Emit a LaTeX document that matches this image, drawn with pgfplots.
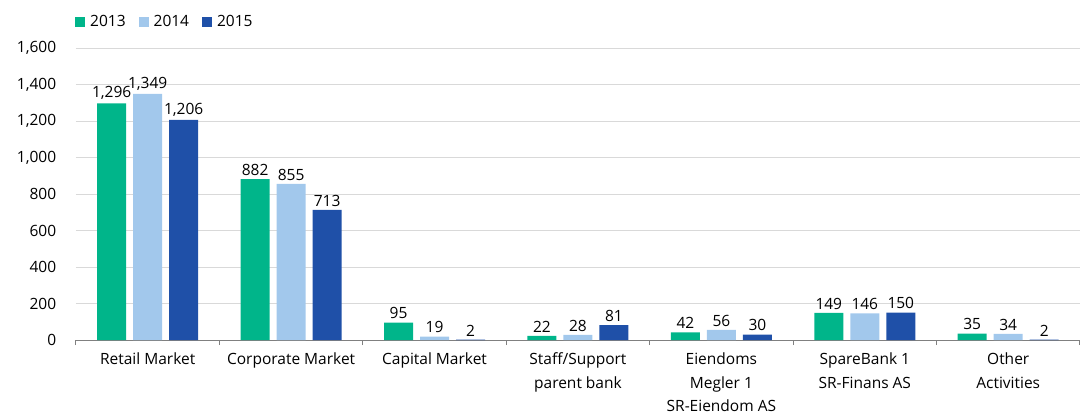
\documentclass[border=0pt]{standalone}
\usepackage{pgfplots}
\pgfplotsset{compat=1.18}
\usepackage{fontspec}
\setmainfont{Open Sans}
\definecolor{cA}{RGB}{0,181,138}
\definecolor{cB}{RGB}{162,200,236}
\definecolor{cC}{RGB}{31,80,168}
\definecolor{gridc}{RGB}{217,217,217}
\definecolor{axc}{RGB}{128,128,128}
\begin{document}
\begin{tikzpicture}
\useasboundingbox (-76pt,-75pt) rectangle (1007pt,340pt);
\begin{axis}[
  at={(0,0)}, anchor=south west,
  scale only axis, width=1004pt, height=292pt,
  ybar=7pt, bar width=29pt,
  xmin=-0.5, xmax=6.5, ymin=0, ymax=1600,
  ytick={0,200,...,1600},
  yticklabel style={font=\fontsize{15.5}{18}\selectfont, xshift=-12pt, /pgf/number format/.cd, fixed, 1000 sep={,}, assume math mode=true},
  ymajorgrids, grid style={gridc, line width=0.8pt},
  axis x line*=bottom, axis y line*=left,
  y axis line style={draw=none},
  x axis line style={axc, line width=1pt, -},
  xtick={0,...,6},
  xticklabels={Retail Market, Corporate Market, Capital Market, {Staff/Support\\parent bank}, {Eiendoms\\Megler 1\\SR-Eiendom AS}, {SpareBank 1\\SR-Finans AS}, {Other\\Activities}},
  xticklabel style={align=center, font=\fontsize{15.5}{23.5}\selectfont, yshift=-5pt},
  major x tick style={draw=none},
  minor xtick={-0.5,0.5,...,6.5},
  minor x tick style={axc, line width=1pt},
  minor tick length=5pt,
  tick align=outside,
  major y tick style={draw=none},
  nodes near coords,
  every node near coord/.append style={font=\fontsize{15.5}{18}\selectfont, black, /pgf/number format/.cd, fixed, 1000 sep={,}, assume math mode=true},
  legend style={at={(rel axis cs:0,1)}, anchor=west, yshift=26pt, xshift=-4pt, draw=none, font=\fontsize{15.5}{18}\selectfont, legend columns=3,
    /tikz/every even column/.append style={column sep=11pt},
    /tikz/every odd column/.append style={column sep=3pt}},
  legend image code/.code={\fill[#1] (0pt,-5pt) rectangle (10pt,5pt);},
]
\addplot[fill=cA, draw=none] coordinates {(0,1296) (1,882) (2,95) (3,22) (4,42) (5,149) (6,35)};
\addplot[fill=cB, draw=none] coordinates {(0,1349) (1,855) (2,19) (3,28) (4,56) (5,146) (6,34)};
\addplot[fill=cC, draw=none] coordinates {(0,1206) (1,713) (2,2) (3,81) (4,30) (5,150) (6,2)};
\legend{2013,2014,2015}
\end{axis}
\end{tikzpicture}
\end{document}
